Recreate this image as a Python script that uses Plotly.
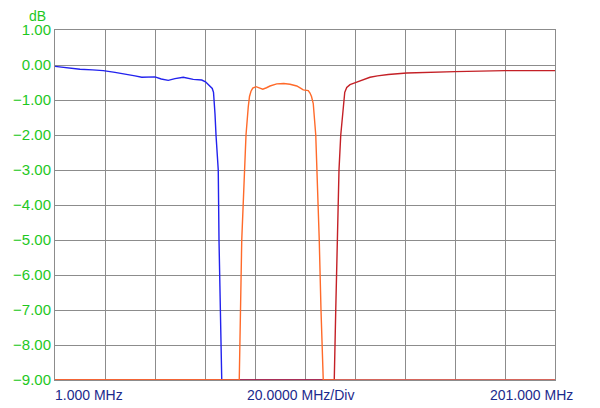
import plotly.graph_objects as go

# ---- trace data (MHz, dB) ----
blue_mhz = [1, 5, 11, 16, 20.3, 25, 29.7, 33, 35.7, 38, 41, 43.5, 46.3, 49, 52.3, 56.3, 59.7, 61.2, 62.3, 63.3, 63.9, 64.4, 64.6, 65.0, 65.4, 66.3, 66.6, 67.3, 67.7, 201]
blue_db = [-0.04, -0.08, -0.12, -0.14, -0.16, -0.21, -0.26, -0.31, -0.35, -0.34, -0.34, -0.40, -0.44, -0.39, -0.35, -0.41, -0.43, -0.48, -0.55, -0.61, -0.67, -0.78, -0.95, -1.4, -2.0, -3.0, -5.0, -7.0, -9.0, -9.0]

orange_mhz = [1, 74.7, 75.7, 76.7, 77.4, 78.3, 78.8, 79.4, 80.1, 81.4, 82.8, 84.1, 85.6, 87, 89.7, 92.5, 95, 97.7, 99.2, 100.3, 102.3, 103.0, 103.6, 104.3, 105.3, 105.8, 106.7, 107.4, 108.3, 201]
orange_db = [-9.0, -9.0, -5.0, -3.0, -2.0, -1.2, -0.9, -0.75, -0.66, -0.62, -0.66, -0.69, -0.65, -0.6, -0.54, -0.53, -0.55, -0.6, -0.66, -0.71, -0.73, -0.80, -0.90, -1.1, -2.0, -3.0, -5.0, -7.0, -9.0, -9.0]

red_mhz = [1, 112.7, 113.3, 113.9, 114.6, 115.3, 116.3, 116.9, 117.7, 119, 121.7, 124, 127, 130, 134.3, 141.7, 150, 161, 181, 201]
red_db = [-9.0, -9.0, -7.0, -5.0, -3.0, -2.0, -1.1, -0.78, -0.64, -0.56, -0.49, -0.42, -0.35, -0.31, -0.27, -0.23, -0.21, -0.19, -0.16, -0.16]

y_ticks = [1, 0, -1, -2, -3, -4, -5, -6, -7, -8, -9]

green = "#1ec81e"
navy = "#1c2a8c"
grid = "#8c8c8c"

fig = go.Figure()
fig.add_trace(go.Scatter(x=blue_mhz, y=blue_db, mode="lines",
                         line=dict(color="#2222ee", width=1.4)))
fig.add_trace(go.Scatter(x=red_mhz, y=red_db, mode="lines",
                         line=dict(color="#c42026", width=1.4)))
fig.add_trace(go.Scatter(x=orange_mhz, y=orange_db, mode="lines",
                         line=dict(color="#ff6a2a", width=1.4)))

# page body adds an 8px margin, so the figure is 8px smaller each way
fig.update_layout(
    width=592, height=400,
    margin=dict(l=47, r=45, t=22, b=28),
    paper_bgcolor="white", plot_bgcolor="white",
    showlegend=False,
    font=dict(family="Liberation Sans, Arial, sans-serif"),
    xaxis=dict(range=[1, 201], tick0=1, dtick=20, showticklabels=False,
               showgrid=True, gridcolor=grid, gridwidth=1, zeroline=False,
               showline=True, linecolor=grid, mirror=True, ticks="",
               automargin=False),
    yaxis=dict(range=[-9, 1], tickvals=y_ticks, tickformat=".2f",
               tickfont=dict(color=green, size=15), ticks="",
               showgrid=True, gridcolor=grid, gridwidth=1, zeroline=False,
               showline=True, linecolor=grid, mirror=True, automargin=False),
    annotations=[
        dict(text="dB", xref="paper", yref="paper", x=-0.036, y=1.014,
             xanchor="center", yanchor="bottom", showarrow=False,
             borderpad=0, font=dict(color=green, size=14)),
        dict(text="1.000 MHz", xref="paper", yref="paper", x=-0.004, y=-0.015,
             xanchor="left", yanchor="top", showarrow=False,
             font=dict(color=navy, size=14)),
        dict(text="20.0000 MHz/Div", xref="paper", yref="paper", x=0.49, y=-0.015,
             xanchor="center", yanchor="top", showarrow=False,
             font=dict(color=navy, size=14)),
        dict(text="201.000 MHz", xref="paper", yref="paper", x=1.04, y=-0.015,
             xanchor="right", yanchor="top", showarrow=False,
             font=dict(color=navy, size=14)),
    ],
)

fig.write_html("out.html")
